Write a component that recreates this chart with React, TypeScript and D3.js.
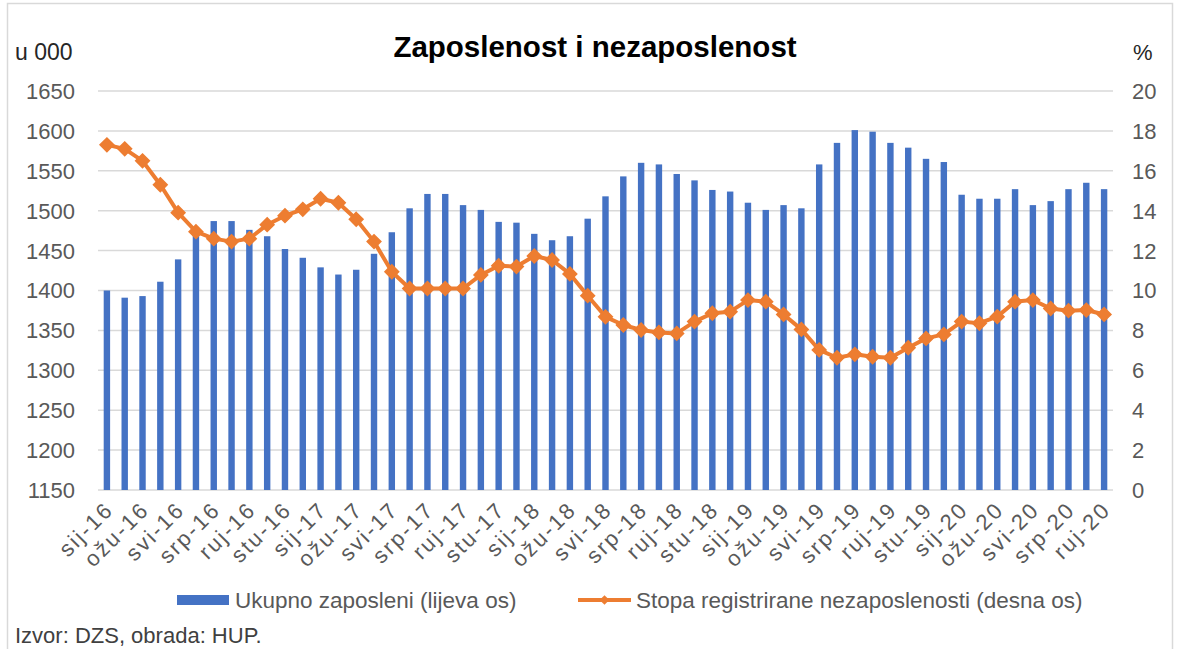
import React, { useEffect, useRef } from 'react';
import * as d3 from 'd3';

// Months sij-16 .. ruj-20
const monthNames = ['sij', 'velj', 'ožu', 'tra', 'svi', 'lip', 'srp', 'kol', 'ruj', 'lis', 'stu', 'pro'];
const years = ['16', '17', '18', '19', '20'];
const categories: string[] = [];
years.forEach(y => monthNames.forEach(m => categories.push(`${m}-${y}`)));
categories.splice(57);

// Ukupno zaposleni (u 000)
const employed = [
  1400, 1391, 1393, 1411, 1439, 1472, 1487, 1487, 1476, 1468, 1452, 1441,
  1429, 1420, 1426, 1446, 1473, 1503, 1521, 1521, 1507, 1501, 1486, 1485,
  1471, 1463, 1468, 1490, 1518, 1543, 1560, 1558, 1546, 1538, 1526, 1524,
  1510, 1501, 1507, 1503, 1558, 1585, 1601, 1599, 1585, 1579, 1565, 1561,
  1520, 1515, 1515, 1527, 1507, 1512, 1527, 1535, 1527,
];

// Stopa registrirane nezaposlenosti (%)
const unemploymentRate = [
  17.3, 17.1, 16.5, 15.3, 13.9, 12.95, 12.6, 12.45, 12.6, 13.3, 13.75, 14.07,
  14.6, 14.4, 13.57, 12.45, 10.94, 10.1, 10.1, 10.1, 10.1, 10.78, 11.24, 11.2,
  11.73, 11.53, 10.83, 9.74, 8.68, 8.27, 8.02, 7.9, 7.85, 8.44, 8.86, 8.94,
  9.52, 9.44, 8.8, 8.05, 7.02, 6.63, 6.8, 6.68, 6.63, 7.13, 7.6, 7.8,
  8.44, 8.36, 8.69, 9.44, 9.52, 9.1, 8.99, 9.02, 8.8,
];

const leftTicks = [1150, 1200, 1250, 1300, 1350, 1400, 1450, 1500, 1550, 1600, 1650];
const rightTicks = [0, 2, 4, 6, 8, 10, 12, 14, 16, 18, 20];

const WIDTH = 1179;
const HEIGHT = 649;
const FONT = '"Liberation Sans", Arial, sans-serif';
const BLUE = '#4472C4';
const ORANGE = '#ED7D31';
const GRID = '#d9d9d9';
const TICK = '#595959';

const App: React.FC = () => {
  const svgRef = useRef<SVGSVGElement>(null);

  useEffect(() => {
    if (!svgRef.current) return;
    const svg = d3.select(svgRef.current);
    svg.selectAll('*').remove();

    const plot = { left: 98, right: 1113, top: 91, bottom: 490 };

    const x = d3.scaleBand<number>()
      .domain(d3.range(categories.length))
      .range([plot.left, plot.right])
      .paddingInner(0.64)
      .paddingOuter(0.32);

    const yLeft = d3.scaleLinear().domain([1150, 1650]).range([plot.bottom, plot.top]);
    const yRight = d3.scaleLinear().domain([0, 20]).range([plot.bottom, plot.top]);

    svg.append('rect').attr('width', WIDTH).attr('height', HEIGHT).attr('fill', '#fff');

    // chart frame
    svg.append('rect')
      .attr('x', 7.5).attr('y', 3.5)
      .attr('width', 1165).attr('height', 660)
      .attr('fill', 'none').attr('stroke', GRID).attr('stroke-width', 1.5);

    // gridlines
    svg.append('g')
      .selectAll('line')
      .data(leftTicks)
      .join('line')
      .attr('x1', plot.left).attr('x2', plot.right)
      .attr('y1', d => yLeft(d)).attr('y2', d => yLeft(d))
      .attr('stroke', GRID).attr('stroke-width', 1.5);

    // left axis labels
    svg.append('g')
      .selectAll('text')
      .data(leftTicks)
      .join('text')
      .attr('x', 75).attr('y', d => yLeft(d))
      .attr('dy', '0.36em')
      .attr('text-anchor', 'end')
      .attr('font-family', FONT).attr('font-size', 22)
      .attr('fill', TICK)
      .text(d => d);

    // right axis labels
    svg.append('g')
      .selectAll('text')
      .data(rightTicks)
      .join('text')
      .attr('x', 1132).attr('y', d => yRight(d))
      .attr('dy', '0.36em')
      .attr('text-anchor', 'start')
      .attr('font-family', FONT).attr('font-size', 22)
      .attr('fill', TICK)
      .text(d => d);

    // bars
    svg.append('g')
      .selectAll('rect')
      .data(employed)
      .join('rect')
      .attr('x', (_, i) => x(i)!)
      .attr('width', x.bandwidth())
      .attr('y', d => yLeft(d))
      .attr('height', d => yLeft(1150) - yLeft(d))
      .attr('fill', BLUE);

    // line
    const cx = (i: number) => x(i)! + x.bandwidth() / 2;
    const line = d3.line<number>()
      .x((_, i) => cx(i))
      .y(d => yRight(d));

    svg.append('path')
      .datum(unemploymentRate)
      .attr('d', line)
      .attr('fill', 'none')
      .attr('stroke', ORANGE)
      .attr('stroke-width', 4)
      .attr('stroke-linejoin', 'round');

    const diamond = d3.symbol().type(d3.symbolDiamond2).size(120);
    svg.append('g')
      .selectAll('path')
      .data(unemploymentRate)
      .join('path')
      .attr('d', diamond)
      .attr('transform', (d, i) => `translate(${cx(i)},${yRight(d)})`)
      .attr('fill', ORANGE)
      .attr('stroke', ORANGE)
      .attr('stroke-width', 1.5);

    // x labels (every second month)
    svg.append('g')
      .selectAll('text')
      .data(categories.map((c, i) => ({ c, i })).filter(d => d.i % 2 === 0))
      .join('text')
      .attr('transform', d => `translate(${cx(d.i) + 8},${511}) rotate(-45)`)
      .attr('text-anchor', 'end')
      .attr('font-family', FONT).attr('font-size', 22)
      .attr('letter-spacing', 2.3)
      .attr('fill', TICK)
      .text(d => d.c);

    // axis titles
    svg.append('text')
      .attr('x', 15).attr('y', 60)
      .attr('font-family', FONT).attr('font-size', 23)
      .attr('fill', '#262626')
      .text('u 000');

    svg.append('text')
      .attr('x', 1133).attr('y', 60)
      .attr('font-family', FONT).attr('font-size', 22)
      .attr('fill', '#262626')
      .text('%');

    // title
    svg.append('text')
      .attr('x', 595).attr('y', 57)
      .attr('text-anchor', 'middle')
      .attr('font-family', FONT).attr('font-size', 29.5).attr('font-weight', 'bold')
      .attr('fill', '#000')
      .text('Zaposlenost i nezaposlenost');

    // legend
    const legend = svg.append('g');
    legend.append('rect')
      .attr('x', 177).attr('y', 595).attr('width', 52).attr('height', 10)
      .attr('fill', BLUE);
    legend.append('text')
      .attr('x', 235).attr('y', 600).attr('dy', '0.36em')
      .attr('font-family', FONT).attr('font-size', 22.5)
      .attr('fill', TICK)
      .text('Ukupno zaposleni (lijeva os)');

    legend.append('line')
      .attr('x1', 578).attr('x2', 631).attr('y1', 600).attr('y2', 600)
      .attr('stroke', ORANGE).attr('stroke-width', 4);
    legend.append('path')
      .attr('d', d3.symbol().type(d3.symbolDiamond2).size(60))
      .attr('transform', 'translate(604.5,600)')
      .attr('fill', ORANGE);
    legend.append('text')
      .attr('x', 636).attr('y', 600).attr('dy', '0.36em')
      .attr('font-family', FONT).attr('font-size', 22.5)
      .attr('fill', TICK)
      .text('Stopa registrirane nezaposlenosti (desna os)');

    // source
    svg.append('text')
      .attr('x', 15).attr('y', 643)
      .attr('font-family', FONT).attr('font-size', 22)
      .attr('fill', '#404040')
      .text('Izvor: DZS, obrada: HUP.');
  }, []);

  return (
    <svg
      ref={svgRef}
      width={WIDTH}
      height={HEIGHT}
      viewBox={`0 0 ${WIDTH} ${HEIGHT}`}
      style={{ position: 'absolute', left: 0, top: 0 }}
    />
  );
};

export default App;
